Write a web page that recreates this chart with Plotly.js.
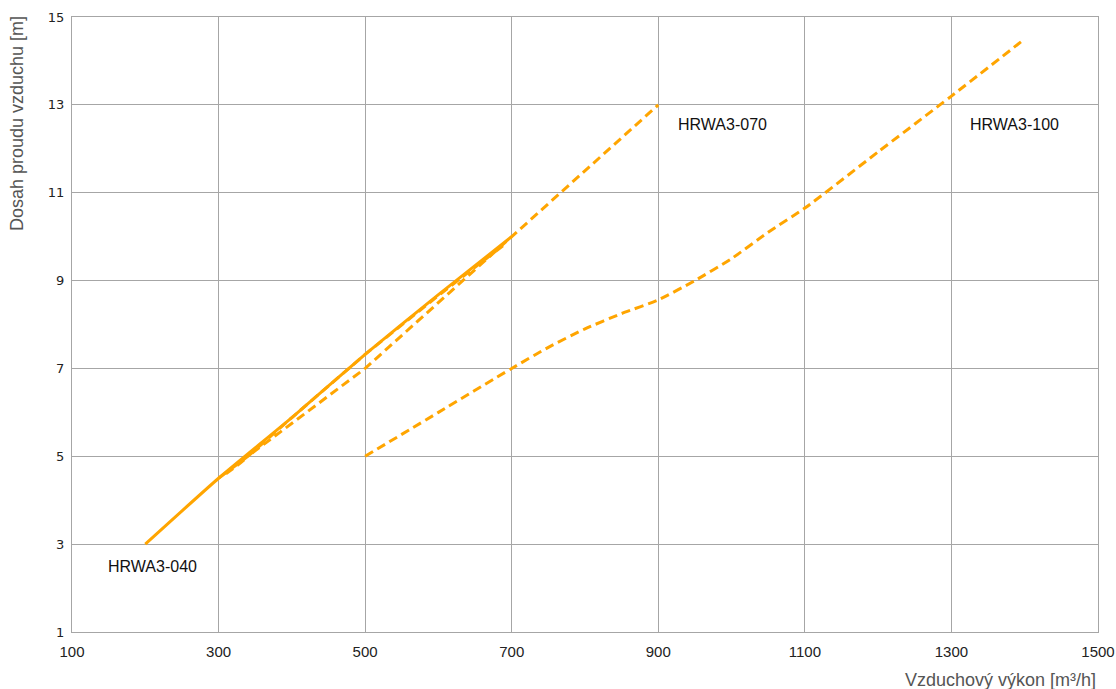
<!DOCTYPE html>
<html>
<head>
<meta charset="utf-8">
<script src="https://cdn.plot.ly/plotly-3.0.1.min.js"></script>
<style>html,body{margin:0;padding:0;background:#fff;}#chart{width:1116px;height:689px;}</style>
</head>
<body>
<div id="chart"></div>
<script>
// HRWA3-040 (solid)
const x040 = [200, 300, 400, 500, 600, 700];
const y040 = [3, 4.5, 5.88, 7.32, 8.68, 10];
// HRWA3-040 dashed companion (mostly hidden under the solid line)
const x040d = [310, 330, 400, 500, 600, 650, 690];
const y040d = [4.6, 4.85, 5.88, 7.32, 8.66, 9.3, 9.82];
// HRWA3-070 (dashed)
const x070 = [300, 400, 500, 700, 900];
const y070 = [4.5, 5.75, 7, 10, 13];
// HRWA3-100 (dashed)
const x100 = [500, 600, 700, 750, 800, 850, 900, 950, 1000, 1050, 1100, 1200, 1300, 1400];
const y100 = [5, 6.0, 7, 7.48, 7.9, 8.25, 8.56, 9.0, 9.5, 10.1, 10.65, 11.93, 13.2, 14.5];
const xTicks = [100, 300, 500, 700, 900, 1100, 1300, 1500];
const yTicks = [1, 3, 5, 7, 9, 11, 13, 15];
const labels = ["HRWA3-040", "HRWA3-070", "HRWA3-100"];
const labelX = [147, 924, 1322];
const labelY = [2.5, 12.55, 12.55];

const col = '#FFA500';
const dsh = '9px,5px';
const traces = [
  {x: x040d, y: y040d, mode: 'lines', line: {color: col, width: 3, dash: dsh}},
  {x: x070, y: y070, mode: 'lines', line: {color: col, width: 3, dash: dsh}},
  {x: x100, y: y100, mode: 'lines', line: {color: col, width: 3, dash: dsh, shape: 'spline', smoothing: 0.6}},
  {x: x040, y: y040, mode: 'lines', line: {color: col, width: 3, shape: 'spline', smoothing: 0.5}}
];

const annotations = labels.map((t, i) => ({
  x: labelX[i], y: labelY[i], xref: 'x', yref: 'y', text: t, showarrow: false,
  xanchor: 'left', yanchor: 'middle', font: {family: 'Liberation Sans, Arial, sans-serif', size: 16, color: '#111'}
}));
annotations.push({
  xref: 'paper', yref: 'paper', x: 1, y: -0.078, text: 'Vzduchový výkon [m³/h]', showarrow: false,
  xanchor: 'right', yanchor: 'middle', font: {family: 'Liberation Sans, Arial, sans-serif', size: 18, color: '#555'}
});
annotations.push({
  xref: 'paper', yref: 'paper', x: -0.053, y: 1.005, text: 'Dosah proudu vzduchu [m]', showarrow: false, textangle: -90,
  xanchor: 'center', yanchor: 'top', font: {family: 'Liberation Sans, Arial, sans-serif', size: 18, color: '#555'}
});

const layout = {
  width: 1116, height: 689,
  margin: {l: 72, r: 18, t: 17, b: 57},
  paper_bgcolor: '#fff', plot_bgcolor: '#fff',
  showlegend: false,
  xaxis: {
    range: [100, 1500], tickvals: xTicks, ticktext: xTicks.map(String),
    showgrid: true, gridcolor: '#a6a6a6', gridwidth: 1, zeroline: false,
    showline: true, linecolor: '#a6a6a6', linewidth: 1, mirror: true,
    ticks: '', ticklen: 0, ticklabelstandoff: 6,
    tickfont: {family: 'Liberation Sans, Arial, sans-serif', size: 15, color: '#222'}
  },
  yaxis: {
    range: [1, 15], tickvals: yTicks, ticktext: yTicks.map(String),
    showgrid: true, gridcolor: '#a6a6a6', gridwidth: 1, zeroline: false,
    showline: true, linecolor: '#a6a6a6', linewidth: 1, mirror: true,
    ticks: '', ticklen: 0, ticklabelstandoff: 4,
    tickfont: {family: 'DejaVu Sans, Verdana, sans-serif', size: 13, color: '#222'}
  },
  annotations: annotations
};

Plotly.newPlot('chart', traces, layout, {displayModeBar: false, staticPlot: true});
</script>
</body>
</html>
